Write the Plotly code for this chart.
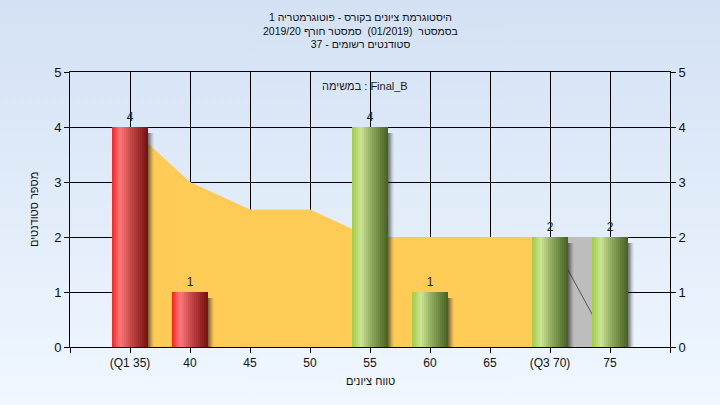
import plotly.graph_objects as go
import base64

# ---------------- data ----------------
score_labels = ["(Q1 35)", "40", "45", "50", "55", "60", "65", "(Q3 70)", "75"]
student_counts = [4, 1, 0, 0, 4, 1, 0, 2, 2]
bar_palette = ["red", "red", "red", "red", "green", "green", "green", "green", "green"]
trend_values = [4, 3, 2.5, 2.5, 2, 2, 2, 2, 0]

title_lines = [
    "היסטוגרמת ציונים בקורס - פוטוגרמטריה 1",
    "בסמסטר \u00a0(01/2019) \u00a0סמסטר חורף 2019/20",
    "סטודנטים רשומים - 37",
]
series_label = "במשימה : Final_B"
x_title = "טווח ציונים"
y_title = "מספר סטודנטים"
y_ticks = [0, 1, 2, 3, 4, 5]

# ---------------- helpers ----------------
def hex2rgb(h):
    h = h.lstrip("#")
    return tuple(int(h[i:i + 2], 16) for i in (0, 2, 4))

def interp(stops, t):
    for (t0, c0), (t1, c1) in zip(stops, stops[1:]):
        if t0 <= t <= t1:
            f = (t - t0) / (t1 - t0) if t1 > t0 else 0
            a, b = hex2rgb(c0), hex2rgb(c1)
            return "rgb(%d,%d,%d)" % tuple(round(a[k] + (b[k] - a[k]) * f) for k in range(3))
    return stops[-1][1]

gradients = {
    "red": [(0, "#FF1C1C"), (0.22, "#FF7A7A"), (0.55, "#C24444"), (1.0, "#731010")],
    "green": [(0, "#A0CC3E"), (0.25, "#CAE394"), (0.55, "#8EA85C"), (1.0, "#465F22")],
}

idx = list(range(len(score_labels)))
BAR_W = 0.6
N_SLICES = 18
sw = BAR_W / N_SLICES

fig = go.Figure()

# trend area (yellow) up to Q3
n_area = len(trend_values) - 1
fig.add_trace(go.Scatter(
    x=idx[:n_area], y=trend_values[:n_area], mode="lines", line=dict(width=0),
    fill="tozeroy", fillcolor="#FECB57", hoverinfo="skip", showlegend=False))
# tail segment
fig.add_trace(go.Scatter(
    x=idx[n_area - 1:], y=[trend_values[n_area - 1]] * 2, mode="lines", line=dict(width=0),
    fill="tozeroy", fillcolor="#BDBDBD", hoverinfo="skip", showlegend=False))
fig.add_trace(go.Scatter(
    x=idx[n_area - 1:], y=trend_values[n_area - 1:], mode="lines",
    line=dict(color="#555555", width=1), hoverinfo="skip", showlegend=False))

# shadows (on overlay axis so they sit above the area)
shadow_alpha = [0.55, 0.45, 0.34, 0.22, 0.12, 0.05]
shw = 0.017
for i, a in enumerate(shadow_alpha):
    fig.add_trace(go.Bar(
        x=idx, y=[max(v - 0.1, 0) for v in student_counts], yaxis="y2",
        width=shw * 1.1, offset=BAR_W / 2 + i * shw,
        marker=dict(color="rgba(30,30,30,%.2f)" % a, line=dict(width=0)),
        hoverinfo="skip", showlegend=False))

# gradient cylinders
for i in range(N_SLICES):
    t = (i + 0.5) / N_SLICES
    cols = [interp(gradients[p], t) for p in bar_palette]
    fig.add_trace(go.Bar(
        x=idx, y=student_counts, yaxis="y2", width=sw * 1.2, offset=-BAR_W / 2 + i * sw,
        marker=dict(color=cols, line=dict(width=0)),
        hoverinfo="skip", showlegend=False))

font_main = "Liberation Sans, Arial, DejaVu Sans, sans-serif"

# value labels
fig.add_trace(go.Scatter(
    x=[i for i, v in zip(idx, student_counts) if v > 0],
    y=[v + 0.06 for v in student_counts if v > 0],
    text=[str(v) for v in student_counts if v > 0], yaxis="y2",
    mode="text", textposition="top center",
    textfont=dict(family=font_main, size=12, color="#202020"),
    hoverinfo="skip", showlegend=False, cliponaxis=False))

tickvals = [-1] + idx + [len(idx)]
ticktext = [""] + score_labels + [""]

# background gradient image
svg = ("<svg xmlns='http://www.w3.org/2000/svg' width='10' height='10' viewBox='0 0 10 10' "
       "preserveAspectRatio='none'><defs><linearGradient id='g' x1='0' y1='0' x2='0' y2='1'>"
       "<stop offset='0' stop-color='#D3E1F4'/><stop offset='1' stop-color='#F0F7FF'/>"
       "</linearGradient></defs><rect width='10' height='10' fill='url(#g)'/></svg>")
svg_uri = "data:image/svg+xml;base64," + base64.b64encode(svg.encode()).decode()

L, R, T, B = 70, 50, 72, 58
PW, PH = 720 - L - R, 405 - T - B

def py(px):
    return (405 - B - px) / PH

def pxx(px):
    return (px - L) / PW

annotations = [
    dict(text="<br>".join(title_lines), xref="paper", yref="paper", x=pxx(360), y=py(30.5),
         xanchor="center", yanchor="middle", align="center", showarrow=False,
         font=dict(family=font_main, size=10.5, color="#111111")),
    dict(text=series_label, xref="paper", yref="paper", x=pxx(410), y=py(86),
         xanchor="right", yanchor="middle", showarrow=False,
         font=dict(family=font_main, size=11, color="#1a1a1a")),
    dict(text=x_title, xref="paper", yref="paper", x=pxx(370), y=py(381),
         xanchor="center", yanchor="middle", showarrow=False,
         font=dict(family=font_main, size=11, color="#111111")),
    dict(text=y_title, xref="paper", yref="paper", x=pxx(34), y=py(210),
         xanchor="center", yanchor="middle", showarrow=False, textangle=-90,
         font=dict(family=font_main, size=11, color="#111111")),
]

fig.update_layout(
    width=720, height=405,
    margin=dict(l=L, r=R, t=T, b=B, pad=0, autoexpand=False),
    paper_bgcolor="#E2ECF8",
    plot_bgcolor="#B3B3B3",
    barmode="overlay",
    bargap=0,
    showlegend=False,
    images=[dict(source=svg_uri, xref="paper", yref="paper", x=-L / PW, y=1 + T / PH,
                 sizex=720 / PW, sizey=405 / PH, sizing="stretch", xanchor="left",
                 yanchor="top", layer="below")],
    xaxis=dict(range=[-1, len(idx)], tickmode="array", tickvals=tickvals, ticktext=ticktext,
               showgrid=True, gridcolor="#000000", gridwidth=1, zeroline=False,
               showline=True, linecolor="#000000", linewidth=1, mirror=True,
               ticks="outside", ticklen=5, tickcolor="#000000",
               tickfont=dict(family=font_main, size=12, color="#111111"), fixedrange=True),
    yaxis=dict(range=[0, 5], tickmode="array", tickvals=y_ticks,
               showgrid=True, gridcolor="#000000", gridwidth=1, zeroline=False,
               showline=True, linecolor="#000000", linewidth=1,
               ticks="outside", ticklen=5, tickcolor="#000000",
               tickfont=dict(family=font_main, size=13, color="#111111")),
    yaxis2=dict(range=[0, 5], tickmode="array", tickvals=y_ticks, overlaying="y", side="right",
                showgrid=False, zeroline=False, showline=True, linecolor="#000000", linewidth=1,
                ticks="outside", ticklen=5, tickcolor="#000000",
                tickfont=dict(family=font_main, size=13, color="#111111")),
    annotations=annotations,
)

# remove the default page margin so the figure sits at the window's corner
post_js = "document.body.style.margin='0';document.body.style.background='#E2ECF8';"

fig.write_html("out.html", post_script=post_js, config={"displayModeBar": False})
